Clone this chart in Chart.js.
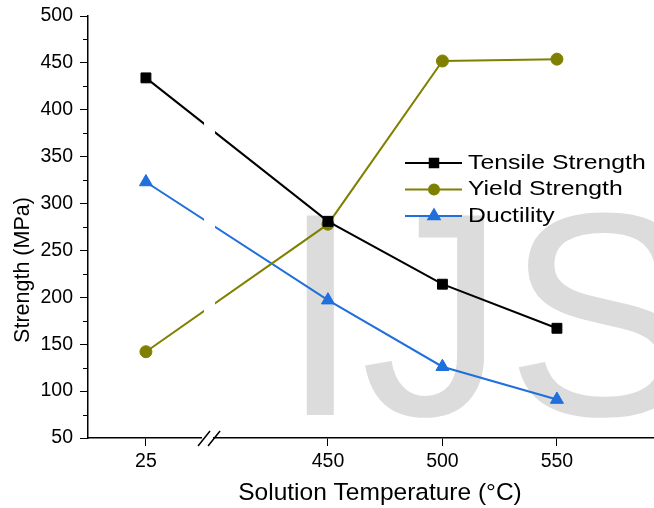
<!DOCTYPE html>
<html>
<head>
<meta charset="utf-8">
<script src="https://cdn.jsdelivr.net/npm/chart.js@4"></script>
<style>
  html, body { margin: 0; padding: 0; background: #fff; }
</style>
</head>
<body>
<canvas id="myChart" width="654" height="508"></canvas>
<script>
const temps = [25, 450, 500, 550];
const tempLabels = ["25", "450", "500", "550"];
const tensile = [434, 281, 214, 167];
const yieldStrength = [142, 278, 452, 454];
const ductility = [323, 197, 126, 91];
const seriesNames = ["Tensile Strength", "Yield Strength", "Ductility"];

// broken x axis: the 25 °C point is moved next to the 450-550 segment
const BREAK_BELOW = 400;
const SHIFT = 345.5;
const BREAK_POS = 398.5;
const pos = (t) => (t < BREAK_BELOW ? t + SHIFT : t);

const colors = ["#000000", "#808000", "#1f6fdc"];
const styles = ["rect", "circle", "triangle"];
const radii = [7, 6, 7.5];
const font = "'Liberation Sans', Arial, sans-serif";

const toPoints = (vals) => temps.map((t, i) => ({ x: pos(t), y: vals[i] }));

const decorations = {
  id: "decorations",
  beforeDatasetsDraw(chart) {
    const { ctx, chartArea } = chart;
    ctx.save();
    ctx.fillStyle = "#dcdcdc";
    ctx.font = "290px " + font;
    ctx.textBaseline = "alphabetic";
    ctx.fillText("IJS", 280, chartArea.bottom - 23);
    ctx.restore();
  },
  afterDatasetsDraw(chart) {
    const { ctx, chartArea, scales } = chart;
    const bx = scales.x.getPixelForValue(BREAK_POS);
    ctx.save();
    // gap in the lines at the break
    ctx.fillStyle = "#fff";
    ctx.fillRect(bx - 6, chartArea.top, 11, chartArea.bottom - chartArea.top - 3);
    // gap in axis line and slashes
    const y0 = chartArea.bottom;
    ctx.fillRect(bx - 8, y0 - 2, 11, 4);
    ctx.strokeStyle = "#000";
    ctx.lineWidth = 1.5;
    ctx.beginPath();
    ctx.moveTo(bx - 12, y0 + 8);
    ctx.lineTo(bx, y0 - 7);
    ctx.moveTo(bx - 2, y0 + 8);
    ctx.lineTo(bx + 10, y0 - 7);
    ctx.stroke();
    // minor y ticks
    const ys = scales.y;
    ctx.lineWidth = 1;
    ctx.beginPath();
    for (let v = 75; v < 500; v += 50) {
      const py = Math.round(ys.getPixelForValue(v)) + 0.5;
      ctx.moveTo(chartArea.left - 5, py);
      ctx.lineTo(chartArea.left, py);
    }
    ctx.stroke();
    // axis titles
    ctx.fillStyle = "#000";
    ctx.font = "24.5px " + font;
    ctx.textAlign = "center";
    ctx.textBaseline = "alphabetic";
    ctx.fillText("Solution Temperature (°C)", 380, 500);
    ctx.save();
    ctx.translate(29, 270);
    ctx.rotate(-Math.PI / 2);
    ctx.font = "21.5px " + font;
    ctx.fillText("Strength (MPa)", 0, 0);
    ctx.restore();
    // legend
    const lx = 405, ly = 163, gap = 26.5;
    seriesNames.forEach((name, i) => {
      const y = ly + i * gap;
      ctx.strokeStyle = colors[i];
      ctx.fillStyle = colors[i];
      ctx.lineWidth = 2;
      ctx.beginPath();
      ctx.moveTo(lx, y);
      ctx.lineTo(lx + 57, y);
      ctx.stroke();
      Chart.helpers.drawPoint(ctx, { pointStyle: styles[i], radius: [6, 5, 6.5][i], borderWidth: 1 }, lx + 29, y);
      ctx.save();
      ctx.fillStyle = "#000";
      ctx.font = "21px " + font;
      ctx.textAlign = "left";
      ctx.translate(lx + 63, y + 5.5);
      ctx.scale(1.18, 1);
      ctx.fillText(name, 0, 0);
      ctx.restore();
    });
    ctx.restore();
  },
};

new Chart(document.getElementById("myChart"), {
  type: "line",
  data: {
    datasets: [
      { label: seriesNames[0], data: toPoints(tensile) },
      { label: seriesNames[1], data: toPoints(yieldStrength) },
      { label: seriesNames[2], data: toPoints(ductility) },
    ].map((d, i) => ({
      ...d,
      borderColor: colors[i],
      backgroundColor: colors[i],
      borderWidth: 2,
      pointStyle: styles[i],
      pointRadius: radii[i],
      pointBorderWidth: 1,
      tension: 0,
    })),
  },
  options: {
    responsive: false,
    animation: false,
    devicePixelRatio: 1,
    layout: { autoPadding: false, padding: { top: 16, right: 0, left: 0, bottom: 0 } },
    plugins: { legend: { display: false }, tooltip: { enabled: false } },
    scales: {
      x: {
        type: "linear",
        min: 345.2,
        max: 592.4,
        afterFit(scale) {
          scale.height = 70;
          scale.paddingRight = 0;
          scale.paddingLeft = 0;
        },
        afterBuildTicks(scale) {
          scale.ticks = temps.map((t) => ({ value: pos(t) }));
        },
        ticks: {
          color: "#000",
          font: { family: font, size: 19.5 },
          padding: 4,
          maxRotation: 0,
          callback: (v) => {
            const i = temps.findIndex((t) => Math.abs(pos(t) - v) < 0.01);
            return i >= 0 ? tempLabels[i] : "";
          },
        },
        grid: { drawOnChartArea: false, tickLength: 8, color: "#000", lineWidth: 1 },
        border: { color: "#000", width: 1.5 },
      },
      y: {
        min: 50,
        max: 500,
        afterFit(scale) {
          scale.width = 88;
          scale.paddingTop = 0;
        },
        ticks: {
          stepSize: 50,
          color: "#000",
          font: { family: font, size: 19.5 },
          padding: 7,
        },
        grid: { drawOnChartArea: false, tickLength: 8, color: "#000", lineWidth: 1 },
        border: { color: "#000", width: 1.5 },
      },
    },
  },
  plugins: [decorations],
});
</script>
</body>
</html>
